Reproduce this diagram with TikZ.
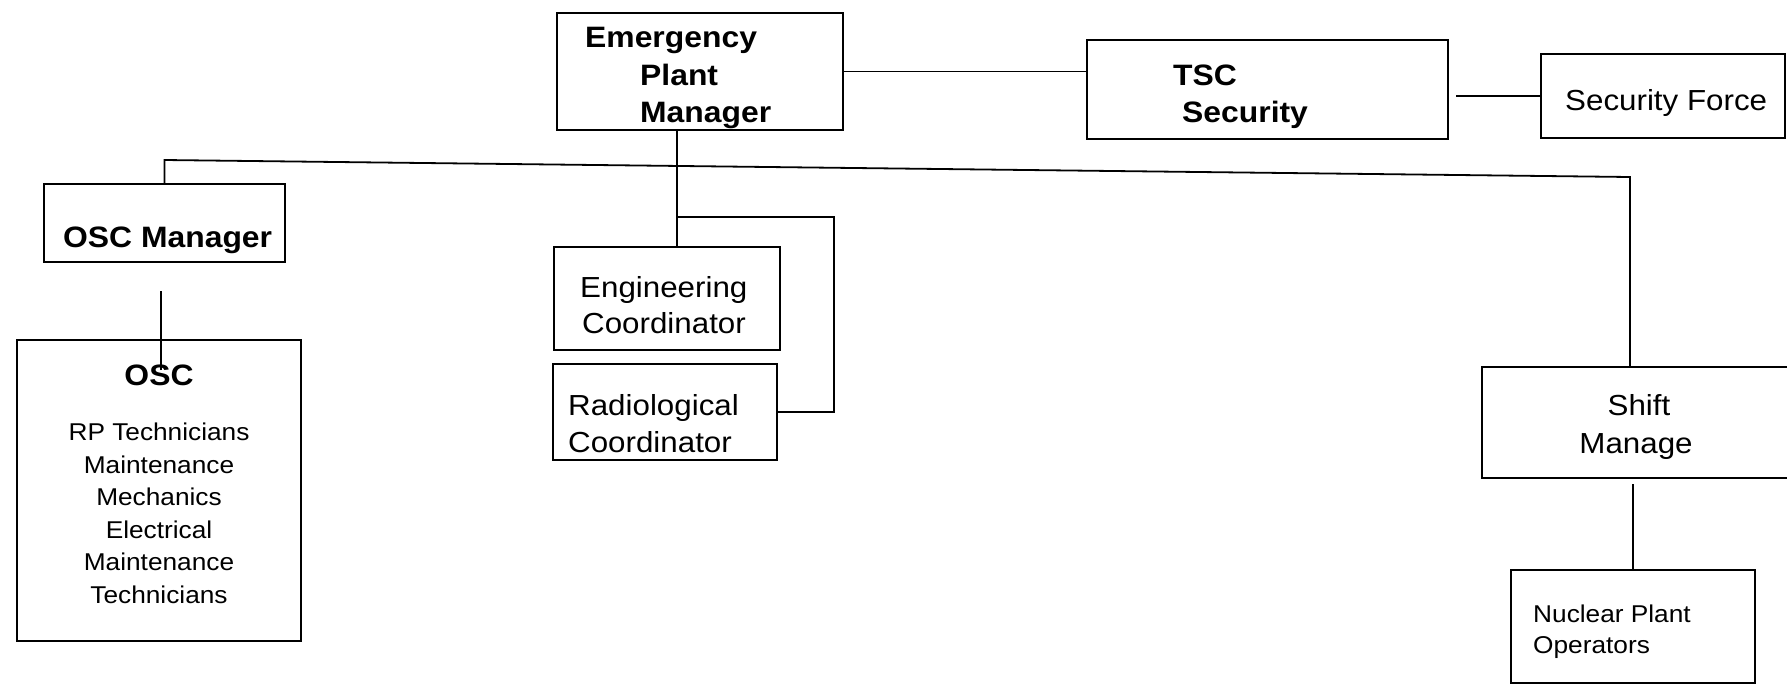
\documentclass[tikz,border=0pt]{standalone}
\usepackage{fontspec}
\setmainfont{Liberation Sans}[FakeStretch=1.08]
\begin{document}
\begin{tikzpicture}[x=1pt,y=-1pt,
  box/.style={draw, line width=2pt, inner sep=0pt},
  conn/.style={line width=1.8pt},
  lbl/.style={inner sep=0pt, anchor=base west},
  lblc/.style={inner sep=0pt, anchor=base},
  bigbold/.style={font=\fontsize{29.5}{36}\selectfont\bfseries},
  bigreg/.style={font=\fontsize{29}{36}\selectfont},
  smallreg/.style={font=\fontsize{24.3}{32}\selectfont}]
\path[use as bounding box] (0,0) rectangle (1787,686);
\clip (0,0) rectangle (1787,686);

% boxes
\node[box, minimum width=286pt, minimum height=117pt] (epm) at (700,71.5) {};
\node[box, minimum width=361pt, minimum height=99pt] (tsc) at (1267.5,89.5) {};
\node[box, minimum width=244pt, minimum height=84pt] (sf) at (1663,96) {};
\node[box, minimum width=241pt, minimum height=78pt] (oscm) at (164.5,223) {};
\node[box, minimum width=284pt, minimum height=301pt] (osc) at (159,490.5) {};
\node[box, minimum width=226pt, minimum height=103pt] (eng) at (667,298.5) {};
\node[box, minimum width=224pt, minimum height=96pt] (rad) at (665,412) {};
\node[box, minimum width=318pt, minimum height=111pt] (shift) at (1641,422.5) {};
\node[box, minimum width=244pt, minimum height=113pt] (npo) at (1633,626.5) {};

% texts
\node[lbl, bigbold] (t1) at (585,47) {Emergency};
\node[lbl, bigbold] (t2) at (640,85) {Plant};
\node[lbl, bigbold] (t3) at (640,122) {Manager};
\node[lbl, bigbold] (t4) at (1173,85) {TSC};
\node[lbl, bigbold] (t5) at (1182,122) {Security};
\node[lbl, bigreg] (t6) at (1565,110) {Security Force};
\node[lbl, bigbold] (t7) at (63,247) {OSC Manager};
\node[lblc, bigbold] (t8) at (159,385) {OSC};
\node[lblc, smallreg] (t9) at (159,440) {RP Technicians};
\node[lblc, smallreg] (t10) at (159,473) {Maintenance};
\node[lblc, smallreg] (t11) at (159,505) {Mechanics};
\node[lblc, smallreg] (t12) at (159,538) {Electrical};
\node[lblc, smallreg] (t13) at (159,570) {Maintenance};
\node[lblc, smallreg] (t14) at (159,603) {Technicians};
\node[lbl, bigreg] (t15) at (580,297) {Engineering};
\node[lbl, bigreg] (t16) at (582,333) {Coordinator};
\node[lbl, bigreg] (t17) at (568,415) {Radiological};
\node[lbl, bigreg] (t18) at (568,452) {Coordinator};
\node[lblc, bigreg] (t19) at (1639,415) {Shift};
\node[lblc, bigreg] (t20) at (1636,453) {Manage};
\node[lbl, smallreg] (t21) at (1533,622) {Nuclear Plant};
\node[lbl, smallreg] (t22) at (1533,653) {Operators};

% junction coordinates
\coordinate (j1) at (677,217);
\coordinate (j2) at (834,217);
\coordinate (b1) at (164.5,160);
\coordinate (b2) at (1630,177);
\coordinate (oscl) at (161,370);

% connectors
\draw[conn] (epm.east) -- (epm.east -| tsc.west);
\draw[conn, shorten >=7pt] (sf.west) -- (sf.west -| tsc.east);
\draw[conn] (epm.south -| j1) -- (eng.north -| j1);
\draw[conn] (j1) -- (j2) |- (rad.east);
\draw[conn] (oscm.north) -- (b1) -- (b2) -- (b2 |- shift.north);
\draw[conn] (oscl) -- ([yshift=-28pt]oscl |- oscm.south);
\draw[conn] ([yshift=-5pt]shift.south -| npo.north) -- (npo.north);
\end{tikzpicture}
\end{document}
